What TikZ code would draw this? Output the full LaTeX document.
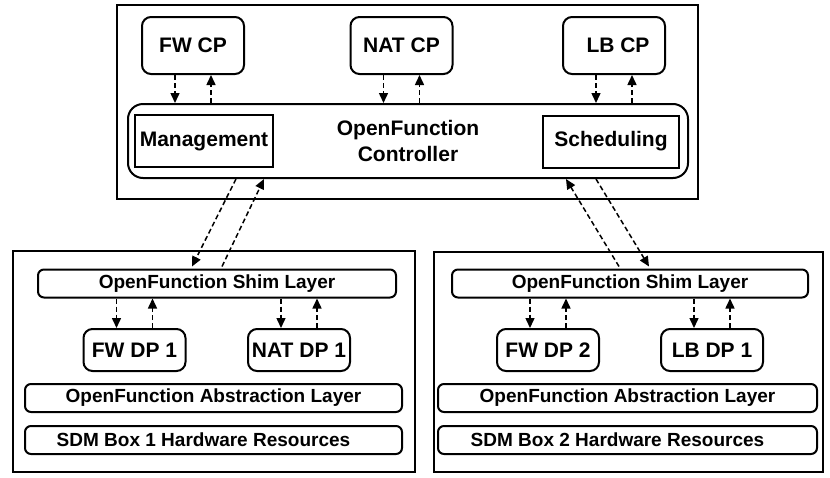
\documentclass[tikz,border=0pt]{standalone}
\usepackage{fontspec}
\setmainfont{Liberation Sans}
\usetikzlibrary{arrows.meta, positioning, calc}
\tikzset{
  box/.style={rectangle, draw, line width=2pt, inner sep=0pt,
              align=center, font=\fontsize{21}{26}\selectfont\bfseries},
  func/.style={box, rounded corners=9pt, minimum width=102pt},
  cp/.style={func, minimum height=57pt},
  dp/.style={func, minimum height=42pt},
  sub/.style={box, minimum height=52pt},
  layer/.style={box, rounded corners=6pt, minimum height=28pt,
                font=\fontsize{19}{23}\selectfont\bfseries},
  arr/.style={-{Triangle[length=10pt,width=9pt]}, line width=1.5pt,
              dash pattern=on 5pt off 3pt},
}

\begin{document}
\begin{tikzpicture}[x=1pt, y=-1pt]
  \useasboundingbox (0,0) rectangle (830,477);

  \node[box, minimum width=581pt, minimum height=194pt] (ctrlbox) at (407.5,102) {};
  \node[box, minimum width=402pt, minimum height=221pt] (sdm1) at (214,361.5) {};
  \node[box, minimum width=389pt, minimum height=220pt] (sdm2) at (628.5,362) {};

  \node[cp] (fwcp) at (193,45.5) {FW CP};
  \node[cp] (natcp) at (401.5,45.5) {NAT CP};
  \node[cp] (lbcp) at (614,45.5) {\hspace*{8pt}LB CP};

  \node[box, rounded corners=15pt, minimum width=560pt, minimum height=74pt]
    (ctrl) at (408,141) {OpenFunction\\Controller};
  \node[sub, minimum width=138pt] (mgmt) at (204,141) {Management};
  \node[sub, minimum width=136pt] (sched) at (611,141.5) {Scheduling};

  \node[layer, minimum width=358pt] (shim1) at (217,283.5) {OpenFunction Shim Layer};
  \node[dp] (fwdp1) at (134.5,350) {FW DP 1};
  \node[dp] (natdp1) at (299,350) {NAT DP 1};
  \node[layer, minimum width=377pt] (abs1) at (213.5,398) {OpenFunction Abstraction Layer};
  \node[layer, minimum width=377pt] (hw1) at (213.5,440) {SDM Box 1 Hardware Resources\hspace*{20pt}};

  \node[layer, minimum width=356pt] (shim2) at (630,283.5) {OpenFunction Shim Layer};
  \node[dp] (fwdp2) at (548,350) {FW DP 2};
  \node[dp] (lbdp1) at (712,350) {LB DP 1};
  \node[layer, minimum width=379pt] (abs2) at (627.5,398) {OpenFunction Abstraction Layer};
  \node[layer, minimum width=379pt] (hw2) at (627.5,440) {SDM Box 2 Hardware Resources\hspace*{20pt}};

  \foreach \cp in {fwcp, natcp, lbcp} {
    \draw[arr] ($(\cp.south)+(-18,0)$) -- ($(\cp.south |- ctrl.north)+(-18,0)$);
    \draw[arr] ($(\cp.south |- ctrl.north)+(18,0)$) -- ($(\cp.south)+(18,0)$);
  }

  \foreach \dp/\shim in {fwdp1/shim1, natdp1/shim1, fwdp2/shim2, lbdp1/shim2} {
    \draw[arr] ($(\dp.north |- \shim.south)+(-18,0)$) -- ($(\dp.north)+(-18,0)$);
    \draw[arr] ($(\dp.north)+(18,0)$) -- ($(\dp.north |- \shim.south)+(18,0)$);
  }

  \draw[arr] ($(ctrl.south west)+(109,0)$) -- ($(shim1.north west)+(155,-2)$);
  \draw[arr] ($(shim1.north west)+(185,-2)$) -- ($(ctrl.south west)+(137,0)$);
  \draw[arr] ($(shim2.north west)+(168,-2)$) -- ($(ctrl.south east)+(-123,0)$);
  \draw[arr] ($(ctrl.south east)+(-93,0)$) -- ($(shim2.north west)+(198,-2)$);
\end{tikzpicture}
\end{document}
